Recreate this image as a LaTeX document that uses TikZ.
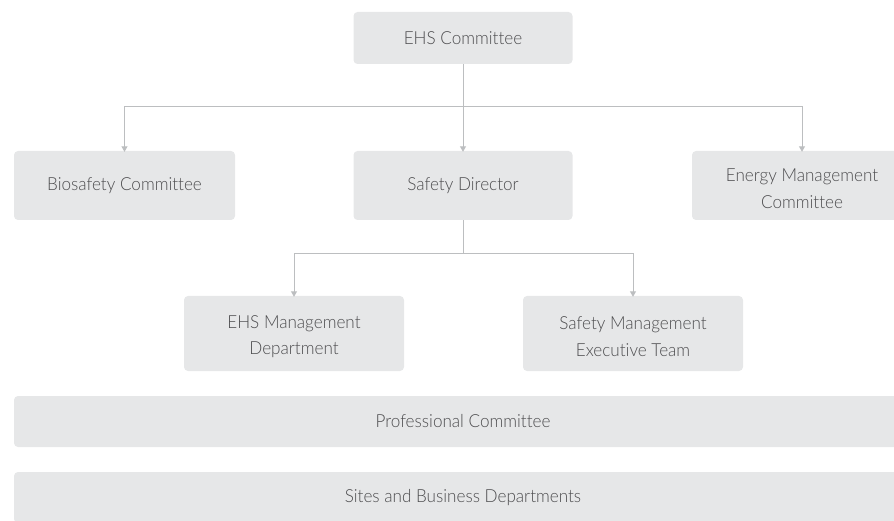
\documentclass[tikz,border=0pt]{standalone}
\usepackage{fontspec}
\setmainfont[FakeStretch=0.95, UprightFont=* Light, Ligatures=NoCommon]{Lato}
\usepackage{xcolor}
\usepackage{tikz}
\usetikzlibrary{arrows.meta}
\definecolor{boxfill}{HTML}{E6E7E8}
\definecolor{linegray}{HTML}{BCBEC0}
\definecolor{textgray}{HTML}{4D4D4F}
\newcommand{\firstline}{\rule{0pt}{19pt}}
\tikzset{
    unit/.style={fill=boxfill, rounded corners=4pt, text=textgray, align=center,
        font=\fontsize{18}{26.5}\selectfont, inner sep=0pt},
    link/.style={draw=linegray, line width=1pt, -{Triangle[length=5.5pt,width=6pt]}},
    plain/.style={draw=linegray, line width=1pt}
}
\begin{document}
\begin{tikzpicture}[x=1pt, y=-1pt]
                \useasboundingbox (0,0) rectangle (894,521);
                \clip (0,0) rectangle (894,521);
                % top level
                \node[unit, minimum width=219pt, minimum height=52pt] (ehs) at (463,38) {EHS Committee};
                % second row
                \node[unit, minimum width=221pt, minimum height=69pt] (bio) at (124.5,185.5) {Biosafety Committee};
                \node[unit, minimum width=219pt, minimum height=69pt] (dir) at (463,185.5) {Safety Director};
                \node[unit, minimum width=220pt, minimum height=69pt] (energy) at (802,185.5) {\firstline Energy Management\\Committee};
                % third row
                \node[unit, minimum width=220pt, minimum height=75pt] (dept) at (294,333.5) {\firstline EHS Management\\Department};
                \node[unit, minimum width=220pt, minimum height=75pt] (team) at (633,333.5) {\firstline Safety Management\\Executive Team};
                % wide bars
                \node[unit, minimum width=898pt, minimum height=51pt] (prof) at (463,421.5) {Professional Committee};
                \node[unit, minimum width=898pt, minimum height=51pt] (sites) at (463,497.5) {Sites and Business Departments};
                % connectors
                \coordinate (split1) at (463,107);
                \coordinate (split2) at (463,254);
                \draw[plain] (ehs.south) -- (split1);
                \draw[link] (split1) -| ([yshift=-1pt]bio.north);
                \draw[link] (split1) -- ([yshift=-1pt]dir.north);
                \draw[link] (split1) -| ([yshift=-1pt]energy.north);
                \draw[plain] (dir.south) -- (split2);
                \draw[link] (split2) -| ([yshift=-1pt]dept.north);
                \draw[link] (split2) -| ([yshift=-1pt]team.north);
            \end{tikzpicture}
\end{document}
